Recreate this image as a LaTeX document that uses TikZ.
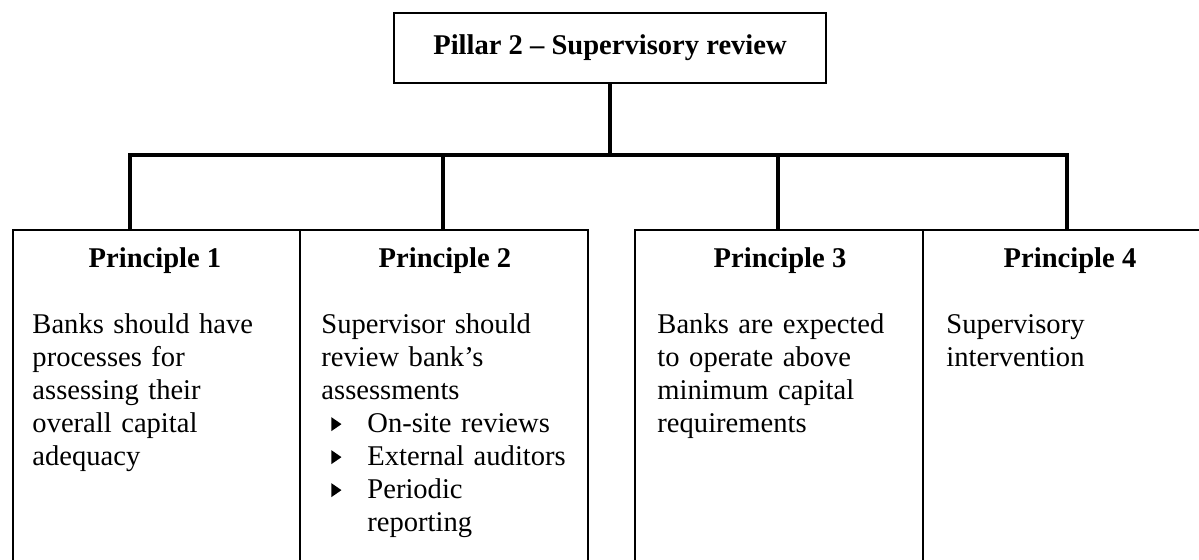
\documentclass[tikz,border=0pt]{standalone}
\usepackage{fontspec}
\setmainfont{Liberation Serif}
\usetikzlibrary{positioning}

% small black pointer for the list items
\newcommand{\pointer}{\tikz[baseline=0pt]\fill (0,0.4pt) -- (0,6.2pt) -- (4.2pt,3.3pt) -- cycle;}
\newcommand{\pitem}{\hspace*{4.2pt}\makebox[15.1pt][l]{\pointer}}

\tikzset{
  pbox/.style={draw, line width=0.85pt, anchor=north west, minimum height=151.6pt, inner sep=0pt},
  pillarbox/.style={draw, line width=0.9pt, minimum width=181.4pt, minimum height=29.4pt,
    font=\fontsize{12pt}{13.86pt}\selectfont\bfseries},
  phead/.style={anchor=base, inner sep=0pt, font=\fontsize{12pt}{13.86pt}\selectfont\bfseries},
  pbody/.style={anchor=base west, inner sep=0pt, align=left, text width=112pt,
    font=\fontsize{12pt}{13.86pt}\selectfont},
  link/.style={line width=1.3pt, line join=miter},
}

\begin{document}
\begin{tikzpicture}[x=0.42pt, y=-0.42pt]
\useasboundingbox (0,0) rectangle (1199,560);
\clip (0,0) rectangle (1199,560);

\node[pillarbox] (pillar) at (610,48) {Pillar 2 -- Supervisory review};

% the four principles
\node[pbox, minimum width=120.54pt] (p1) at (12,229) {};
\node[pbox, minimum width=120.96pt] (p2) at (299,229) {};
\node[pbox, minimum width=120.96pt] (p3) at (634,229) {};
\node[pbox, minimum width=123pt] (p4) at (922,229) {};

\node[phead] (h1) at (155,267) {Principle 1};
\node[phead] (h2) at (445,267) {Principle 2};
\node[phead] (h3) at (780,267) {Principle 3};
\node[phead] (h4) at (1070,267) {Principle 4};

\node[pbody] (t1) at (32,333) {Banks should have\\processes for\\assessing their\\overall capital\\adequacy};
\node[pbody] (t2) at (321,333) {Supervisor should\\review bank’s\\assessments\\
  \pitem On-site reviews\\\pitem External auditors\\\pitem Periodic\\\hspace*{19.3pt}reporting};
\node[pbody] (t3) at (657,333) {Banks are expected\\to operate above\\minimum capital\\requirements};
\node[pbody] (t4) at (946,333) {Supervisory\\intervention};

% connectors
\coordinate (bar) at (610,155);
\coordinate (d1) at (130,155);
\coordinate (d2) at (443,155);
\coordinate (d3) at (778,155);
\coordinate (d4) at (1067,155);
\draw[link] (pillar.south) -- (bar);
\draw[link] (d1 |- p1.north) -- (d1) -- (d4) -- (d4 |- p4.north);
\draw[link] (d2) -- (d2 |- p2.north);
\draw[link] (d3) -- (d3 |- p3.north);
\end{tikzpicture}
\end{document}
